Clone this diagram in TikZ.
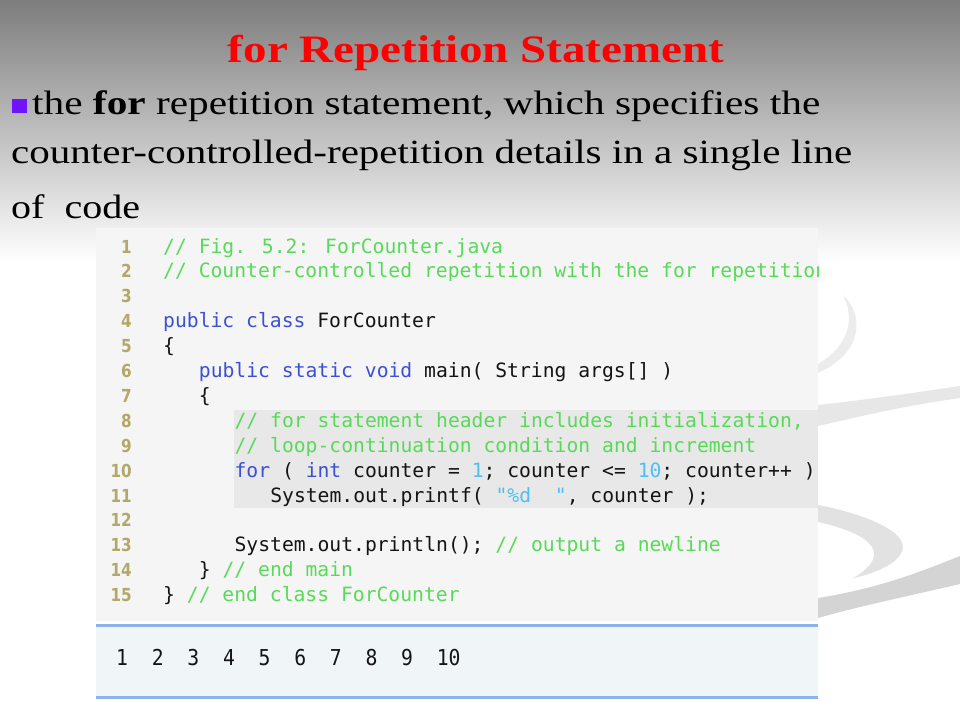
\documentclass[tikz,border=0pt]{standalone}
\usepackage{fontspec}
\usepackage{graphicx}
\setmainfont{Liberation Serif}
\newfontfamily\codefont{DejaVu Sans Mono}
\newfontfamily\numfont{DejaVu Sans}
\definecolor{cgreen}{RGB}{88,218,88}
\definecolor{ckey}{RGB}{60,80,210}
\definecolor{clit}{RGB}{80,190,240}
\definecolor{ctext}{RGB}{20,20,20}
\definecolor{lnum}{RGB}{178,168,105}
\definecolor{panelc}{RGB}{245,245,245}
\definecolor{hlc}{RGB}{232,232,232}
\definecolor{outbg}{RGB}{240,246,248}
\definecolor{outln}{RGB}{140,180,235}
\definecolor{bulletc}{RGB}{110,20,255}
\definecolor{titlered}{RGB}{255,0,0}
\newcommand\kwc[1]{\textcolor{ckey}{#1}}
\newcommand\cmtc[1]{\textcolor{cgreen}{#1}}
\newcommand\litc[1]{\textcolor{clit}{#1}}
\begin{document}
\begin{tikzpicture}[x=1bp,y=-1bp,
  codeln/.style={anchor=base west, inner sep=0pt, font=\codefont\fontsize{19.77}{24}\selectfont, text=ctext},
  numln/.style={anchor=base east, inner sep=0pt, font=\numfont\bfseries\fontsize{18}{20}\selectfont, text=lnum},
  bodyln/.style={anchor=base west, inner sep=0pt, font=\fontsize{34}{40}\selectfont, text=black},
  swoosh/.style={draw=none}]
\useasboundingbox (0,0) rectangle (960,720);
% background
\fill[white] (0,0) rectangle (960,720);
\shade[top color={rgb,255:red,125;green,125;blue,125}, bottom color=white] (0,0) rectangle (960,262);
% decorative swooshes
\fill[swoosh, fill={rgb,255:red,236;green,236;blue,236}] (843,295) .. controls (864,315) and (864,352) .. (818,373) -- (818,364) .. controls (850,345) and (855,318) .. (843,295) -- cycle;
\fill[swoosh, fill={rgb,255:red,231;green,231;blue,231}] (818,405) .. controls (880,398) and (920,392) .. (960,386) -- (960,398) .. controls (910,405) and (870,414) .. (818,426) -- cycle;
\fill[swoosh, fill={rgb,255:red,226;green,226;blue,226}] (818,505) .. controls (870,515) and (915,535) .. (900,555) .. controls (893,566) and (870,575) .. (853,578) .. controls (882,562) and (890,538) .. (818,522) -- cycle;
\fill[swoosh, fill={rgb,255:red,212;green,212;blue,212}] (818,598) .. controls (880,588) and (920,572) .. (960,556) -- (960,584) .. controls (900,598) and (860,606) .. (818,618) -- cycle;
% title
\node[anchor=base, inner sep=0pt, font=\bfseries\fontsize{39}{44}\selectfont, text=titlered] (title) at (476,63) {\resizebox{496bp}{\height}{for Repetition Statement}};
% bullet and body text
\fill[bulletc] (12,99) rectangle (27,113);
\node[bodyln] (b1) at (32,115) {\resizebox{788bp}{\height}{the \textbf{for} repetition statement, which specifies the}};
\node[bodyln] (b2) at (11,164) {\resizebox{841bp}{\height}{counter-controlled-repetition details in a single line}};
\node[bodyln] (b3) at (11,218) {\resizebox{129bp}{\height}{of\ \ code}};
% code panel
\fill[panelc] (96,228) rectangle (818,621);
\fill[hlc] (234,410) rectangle (818,508);
\begin{scope}
\clip (96,228) rectangle (818,621);
\node[codeln] (l1) at (163,253) {\cmtc{// Fig. 5.2: ForCounter.java}};
\node[codeln] (l2) at (163,277.9) {\cmtc{// Counter-controlled repetition with the for repetition statement.}};
\node[codeln] (l4) at (163,327.7) {\kwc{public class} ForCounter};
\node[codeln] (l5) at (163,352.6) {\{};
\node[codeln] (l6) at (198.7,377.5) {\kwc{public static void} main( String args[] )};
\node[codeln] (l7) at (198.7,402.4) {\{};
\node[codeln] (l8) at (234.4,427.3) {\cmtc{// for statement header includes initialization,}};
\node[codeln] (l9) at (234.4,452.2) {\cmtc{// loop-continuation condition and increment}};
\node[codeln] (l10) at (234.4,477.1) {\kwc{for} ( \kwc{int} counter = \litc{1}; counter <= \litc{10}; counter++ )};
\node[codeln] (l11) at (270.1,502) {System.out.printf( \litc{"\%d\ \ "}, counter );};
\node[codeln] (l13) at (234.4,551.8) {System.out.println(); \cmtc{// output a newline}};
\node[codeln] (l14) at (198.7,576.7) {\} \cmtc{// end main}};
\node[codeln] (l15) at (163,601.6) {\} \cmtc{// end class ForCounter}};
\end{scope}
% line numbers
\foreach \i in {1,...,15} {
  \node[numln] (n\i) at (132,{253+24.9*(\i-1)}) {\scalebox{0.85}[1]{\i}};
}
% output panel
\fill[outbg] (96,625) rectangle (818,697);
\draw[outln, line width=3bp] (96,625) -- (818,625);
\draw[outln, line width=3bp] (96,697) -- (818,697);
\node[anchor=base west, inner sep=0pt, font=\codefont\fontsize{22}{26}\selectfont, text=ctext] (out) at (116,665) {\scalebox{0.9}[1]{1\ \ 2\ \ 3\ \ 4\ \ 5\ \ 6\ \ 7\ \ 8\ \ 9\ \ 10}};
\end{tikzpicture}
\end{document}
